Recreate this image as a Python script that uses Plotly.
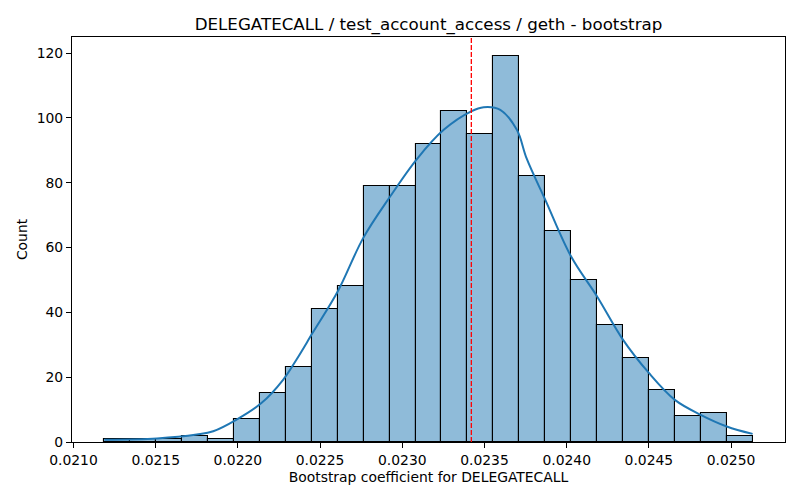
import numpy as np
import plotly.graph_objects as go

# histogram of bootstrap coefficients (25 bins)
hist_min = 0.021188
hist_max = 0.025131
counts = [1, 1, 1, 2, 1, 7, 15, 23, 41, 48, 79, 79, 92, 102, 95,
          119, 82, 65, 50, 36, 26, 16, 8, 9, 2]

# kde curve
kde_x = [0.021188, 0.021508, 0.021750, 0.021850, 0.021992, 0.022143, 0.022275,
         0.022356, 0.022454, 0.022608, 0.022762, 0.022927, 0.023089, 0.023252,
         0.023419, 0.023495, 0.023596, 0.023697, 0.023757, 0.023870, 0.024027,
         0.024185, 0.024342, 0.024500, 0.024658, 0.024815, 0.024974, 0.025131]
kde_y = [0.7, 1.1, 2.3, 3.3, 6.9, 12.0, 19.2, 25.4, 33.6, 46.5, 62.9, 75.8,
         87.3, 96.3, 102.0, 103.3, 102.5, 96.3, 87.4, 74.7, 57.2, 44.9, 31.6,
         21.3, 13.0, 8.4, 4.8, 2.5]

mean_value = 0.02342

edges = np.linspace(hist_min, hist_max, len(counts) + 1)
centers = (edges[:-1] + edges[1:]) / 2
bin_width = edges[1] - edges[0]

fig = go.Figure()

fig.add_trace(go.Bar(
    x=centers,
    y=counts,
    width=bin_width,
    marker=dict(color="rgba(31,119,180,0.5)", line=dict(color="black", width=1.1)),
    showlegend=False,
    hoverinfo="x+y",
))

fig.add_trace(go.Scatter(
    x=kde_x,
    y=kde_y,
    mode="lines",
    line=dict(color="#1f77b4", width=2, shape="spline", smoothing=1.0),
    showlegend=False,
))

fig.add_vline(x=mean_value, line=dict(color="#ff0000", width=1.3, dash="5px,2px"))

axis_style = dict(
    showline=True,
    linecolor="black",
    linewidth=1.1,
    mirror=True,
    ticks="outside",
    ticklen=5,
    tickwidth=1.1,
    tickcolor="black",
    showgrid=False,
    zeroline=False,
    automargin=False,
    tickfont=dict(size=13.9, color="black"),
)

# page body has an 8px margin, so the figure is shrunk and shifted to fit
fig.update_layout(
    width=784,
    height=484,
    autosize=False,
    margin=dict(l=64, r=7, t=29, b=50),
    plot_bgcolor="white",
    paper_bgcolor="white",
    font=dict(family="DejaVu Sans", color="black"),
    bargap=0,
    title=dict(
        text="DELEGATECALL / test_account_access / geth - bootstrap",
        x=(64 + 777) / 2 / 784,
        xanchor="center",
        y=1 - 16 / 484,
        yanchor="middle",
        font=dict(size=16.7, color="black"),
    ),
    xaxis=dict(
        axis_style,
        range=[0.020991, 0.025328],
        tickmode="array",
        tickvals=[0.0210 + 0.0005 * i for i in range(9)],
        ticktext=["%.4f" % (0.0210 + 0.0005 * i) for i in range(9)],
        title=dict(text="Bootstrap coefficient for DELEGATECALL",
                   font=dict(size=13.9, color="black"), standoff=5),
    ),
    yaxis=dict(
        axis_style,
        range=[0, 124.95],
        tickvals=[0, 20, 40, 60, 80, 100, 120],
        title=dict(text="Count", font=dict(size=13.9, color="black"), standoff=5),
    ),
)

fig.write_html("out.html")
